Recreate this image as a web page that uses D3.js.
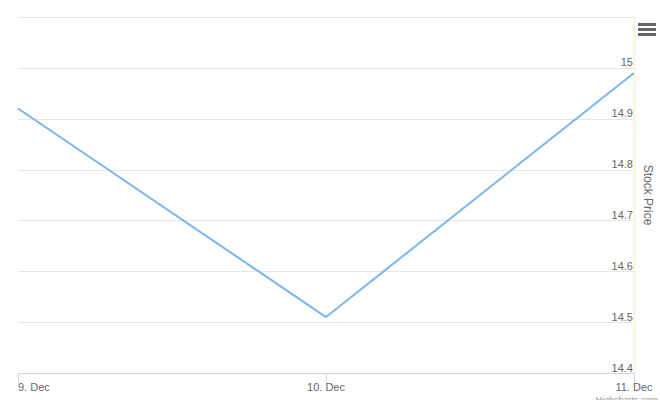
<!DOCTYPE html>
<html>
<head>
<meta charset="utf-8">
<script src="https://cdn.jsdelivr.net/npm/d3@7"></script>
<style>
  body { margin: 0; background: #fff; }
  #chart { width: 660px; height: 400px; }
  text { font-family: "Lucida Grande", "Lucida Sans Unicode", Arial, Helvetica, sans-serif; }
</style>
</head>
<body>
<div id="chart"></div>
<script>
// data
const dates = ['2015-12-09', '2015-12-10', '2015-12-11'];
const prices = [14.92, 14.51, 14.99];
const xLabels = ['9. Dec', '10. Dec', '11. Dec'];
const yTicks = [14.4, 14.5, 14.6, 14.7, 14.8, 14.9, 15, 15.1];

const w = 660, h = 400;
const pLeft = 18, pRight = 634, pTop = 17, pBottom = 373;

const parse = d3.timeParse('%Y-%m-%d');
const df = dates.map((d, i) => ({date: parse(d), c: prices[i], label: xLabels[i]}));

const svg = d3.select('#chart')
    .append('svg')
        .attr('width', w)
        .attr('height', h);

const x = d3.scaleTime()
    .domain(d3.extent(df, d => d.date))
    .range([pLeft, pRight]);

const y = d3.scaleLinear()
    .domain([14.4, 15.1])
    .range([pBottom, pTop]);

// grid lines
svg.append('g')
    .selectAll('line')
    .data(yTicks).enter()
    .append('line')
    .attr('x1', pLeft)
    .attr('x2', pRight)
    .attr('y1', d => Math.round(y(d)) + 0.5)
    .attr('y2', d => Math.round(y(d)) + 0.5)
    .attr('stroke', '#e6e6e6')
    .attr('stroke-width', 1);

// pale right border
svg.append('line')
    .attr('x1', pRight + 0.5).attr('x2', pRight + 0.5)
    .attr('y1', pTop).attr('y2', pBottom)
    .attr('stroke', '#f6f6d8')
    .attr('stroke-width', 2);

// y labels, inside plot on the right
svg.append('g')
    .selectAll('text')
    .data(yTicks.filter(d => d < 15.05)).enter()
    .append('text')
    .attr('x', pRight - 1)
    .attr('y', d => y(d) - 1.5)
    .attr('text-anchor', 'end')
    .attr('fill', '#666666')
    .style('font-size', '11px')
    .text(d => d3.format('')(d));

// x axis line + ticks
svg.append('line')
    .attr('x1', pLeft).attr('x2', pRight)
    .attr('y1', pBottom + 0.5).attr('y2', pBottom + 0.5)
    .attr('stroke', '#ccd6eb');

svg.append('g')
    .selectAll('line')
    .data(df).enter()
    .append('line')
    .attr('x1', d => Math.round(x(d.date)) + 0.5)
    .attr('x2', d => Math.round(x(d.date)) + 0.5)
    .attr('y1', pBottom)
    .attr('y2', pBottom + 10)
    .attr('stroke', '#ccd6eb');

svg.append('g')
    .selectAll('text')
    .data(df).enter()
    .append('text')
    .attr('x', (d, i) => x(d.date))
    .attr('y', pBottom + 18)
    .attr('text-anchor', (d, i) => i === 0 ? 'start' : 'middle')
    .attr('fill', '#666666')
    .style('font-size', '11px')
    .text(d => d.label);

// the line
const line = d3.line()
    .x(d => x(d.date))
    .y(d => y(d.c));

svg.append('path')
    .datum(df)
    .attr('d', line)
    .attr('fill', 'none')
    .attr('stroke', '#7cb5ec')
    .attr('stroke-width', 2)
    .attr('stroke-linejoin', 'round');

// axis title
svg.append('text')
    .attr('transform', `translate(644, ${(pTop + pBottom) / 2}) rotate(90)`)
    .attr('text-anchor', 'middle')
    .attr('fill', '#666666')
    .style('font-size', '12px')
    .text('Stock Price');

// menu button
svg.append('g')
    .selectAll('rect')
    .data([0, 1, 2]).enter()
    .append('rect')
    .attr('x', 638)
    .attr('y', d => 23 + d * 5)
    .attr('width', 18)
    .attr('height', 3)
    .attr('fill', '#666666');

// credits
svg.append('text')
    .attr('x', 658)
    .attr('y', 403)
    .attr('text-anchor', 'end')
    .attr('fill', '#999999')
    .style('font-size', '9px')
    .text('Highcharts.com');
</script>
</body>
</html>
